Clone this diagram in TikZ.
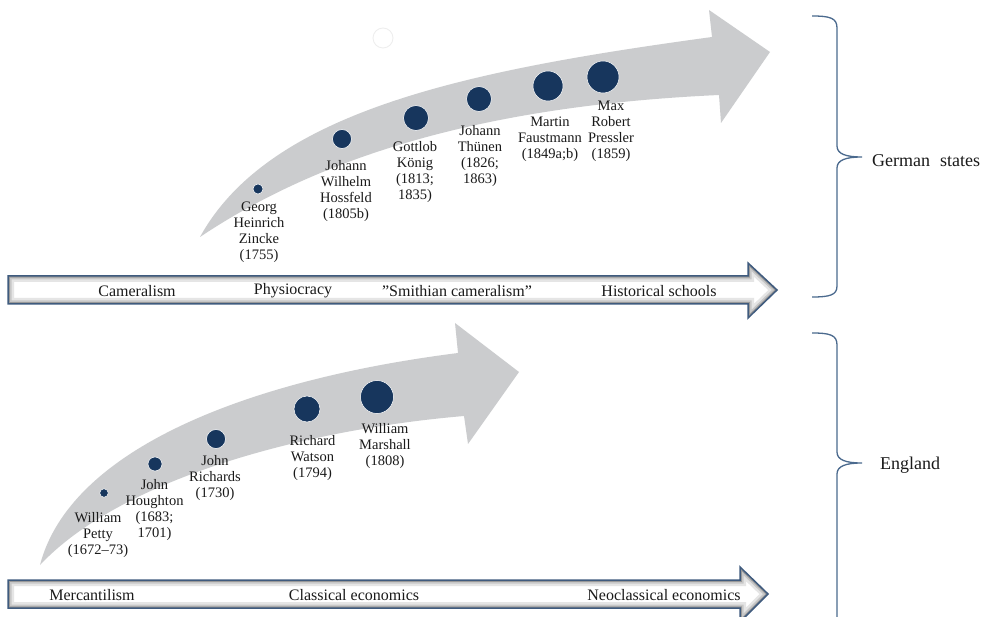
\documentclass[tikz,border=0pt]{standalone}
\usepackage{fontspec}
\setmainfont{Liberation Serif}
\definecolor{navy}{HTML}{17365D}
\definecolor{bandgray}{HTML}{CBCCCE}
\definecolor{edgeblue}{HTML}{3F5B7E}
\definecolor{braceblue}{HTML}{4B6A8E}
\definecolor{txt}{HTML}{1A1A1A}
\newcommand\TopBar{(8,276) -- (748,276) -- (748,263) -- (777,290) -- (748,318) -- (748,304) -- (8,304) -- cycle}
\newcommand\BotBar{(8,580) -- (740,580) -- (740,567) -- (768,594) -- (740,622) -- (740,608) -- (8,608) -- cycle}
\tikzset{
  dot/.style={circle, fill=navy, draw=white, line width=0.5pt, inner sep=0pt},
  lbl/.style={font=\fontsize{14.5}{16}\selectfont, align=center, text=txt, inner sep=0pt},
  barlbl/.style={font=\fontsize{16}{18}\selectfont, text=txt, inner sep=0pt},
  sidelbl/.style={font=\fontsize{18}{20}\selectfont, text=txt, inner sep=0pt, anchor=west},
  bracestyle/.style={draw=braceblue, line width=1.3pt},
  shade1/.style={line width=12pt, draw=black!10},
  shade2/.style={line width=7pt, draw=black!22},
  shade3/.style={line width=3.5pt, draw=black!40},
  barborder/.style={draw=edgeblue, line width=1.5pt, line join=miter}
}
\begin{document}
\begin{tikzpicture}[x=1pt,y=-1pt]
\useasboundingbox (0,0) rectangle (991,617);
\clip (0,0) rectangle (991,617);
\fill[white] (0,0) rectangle (991,617);

% ---------- upper curved arrow ----------
\fill[bandgray] (200,237) .. controls (270,110) and (470,70) .. (712,37)
  -- (709,10) -- (770,52) -- (721,123) -- (719,95)
  .. controls (500,105) and (330,150) .. (200,237) -- cycle;
\draw[black!7, line width=0.8pt] (383,38) circle (10);

% ---------- lower curved arrow ----------
\fill[bandgray] (40,565) .. controls (70,450) and (245,380) .. (458,353)
  -- (455,323) -- (519,372) -- (468,444) -- (464,416)
  .. controls (300,430) and (120,480) .. (40,565) -- cycle;

% ---------- dots upper ----------
\node[dot, minimum size=10pt] (d1) at (258,189) {};
\node[dot, minimum size=19pt] (d2) at (342,139) {};
\node[dot, minimum size=25pt] (d3) at (416,118) {};
\node[dot, minimum size=25pt] (d4) at (479,99) {};
\node[dot, minimum size=30pt] (d5) at (548,86) {};
\node[dot, minimum size=32pt] (d6) at (603,77) {};

% ---------- labels upper ----------
\node[lbl] (l1) at (259,232) {Georg\\Heinrich\\Zincke\\(1755)};
\node[lbl] (l2) at (346,191) {Johann\\Wilhelm\\Hossfeld\\(1805b)};
\node[lbl] (l3) at (415,172.5) {Gottlob\\König\\(1813;\\1835)};
\node[lbl] (l4) at (480,156) {Johann\\Thünen\\(1826;\\1863)};
\node[lbl] (l5) at (550,139) {Martin\\Faustmann\\(1849a;b)};
\node[lbl] (l6) at (611,131) {Max\\Robert\\Pressler\\(1859)};

% ---------- dots lower ----------
\node[dot, minimum size=8.5pt] (e1) at (104,493) {};
\node[dot, minimum size=14pt] (e2) at (155,464) {};
\node[dot, minimum size=19pt] (e3) at (216,439) {};
\node[dot, minimum size=26pt] (e4) at (307,409) {};
\node[dot, minimum size=33pt] (e5) at (377,397) {};

% ---------- labels lower ----------
\node[lbl] (m1) at (98,535) {William\\Petty\\(1672–73)};
\node[lbl] (m2) at (154.5,510) {John\\Houghton\\(1683;\\1701)};
\node[lbl] (m3) at (215,478.5) {John\\Richards\\(1730)};
\node[lbl] (m4) at (312.5,458) {Richard\\Watson\\(1794)};
\node[lbl] (m5) at (385,446.5) {William\\Marshall\\(1808)};

% ---------- upper horizontal arrow ----------
\begin{scope}
  \clip \TopBar;
  \fill[white] \TopBar;
  \draw[shade1] \TopBar;
  \draw[shade2] \TopBar;
  \draw[shade3] \TopBar;
\end{scope}
\draw[barborder] \TopBar;
\node[barlbl] (b1) at (137,291) {Cameralism};
\node[barlbl] (b2) at (293,291) {Physiocracy};
\node[barlbl] (b3) at (457,291) {”Smithian cameralism”};
\node[barlbl] (b4) at (659,291) {Historical schools};

% ---------- lower horizontal arrow ----------
\begin{scope}
  \clip \BotBar;
  \fill[white] \BotBar;
  \draw[shade1] \BotBar;
  \draw[shade2] \BotBar;
  \draw[shade3] \BotBar;
\end{scope}
\draw[barborder] \BotBar;
\node[barlbl] (c1) at (92,595) {Mercantilism};
\node[barlbl] (c2) at (354,595) {Classical economics};
\node[barlbl] (c3) at (664,595) {Neoclassical economics};

% ---------- braces ----------
\draw[bracestyle] (812,16) .. controls (830,16) and (837,18) .. (837,28)
  -- (837,146) .. controls (837,154) and (846,157) .. (862,157)
  .. controls (846,157) and (837,160) .. (837,168)
  -- (837,286) .. controls (837,295) and (830,297) .. (812,297);
\node[sidelbl] (gs) at (872,161) {German\hspace{0.55em}states};

\draw[bracestyle] (812,333) .. controls (830,333) and (837,335) .. (837,345)
  -- (837,452) .. controls (837,460) and (846,463) .. (862,463)
  .. controls (846,463) and (837,466) .. (837,474)
  -- (837,630);
\node[sidelbl] (en) at (880,465) {England};
\end{tikzpicture}
\end{document}
